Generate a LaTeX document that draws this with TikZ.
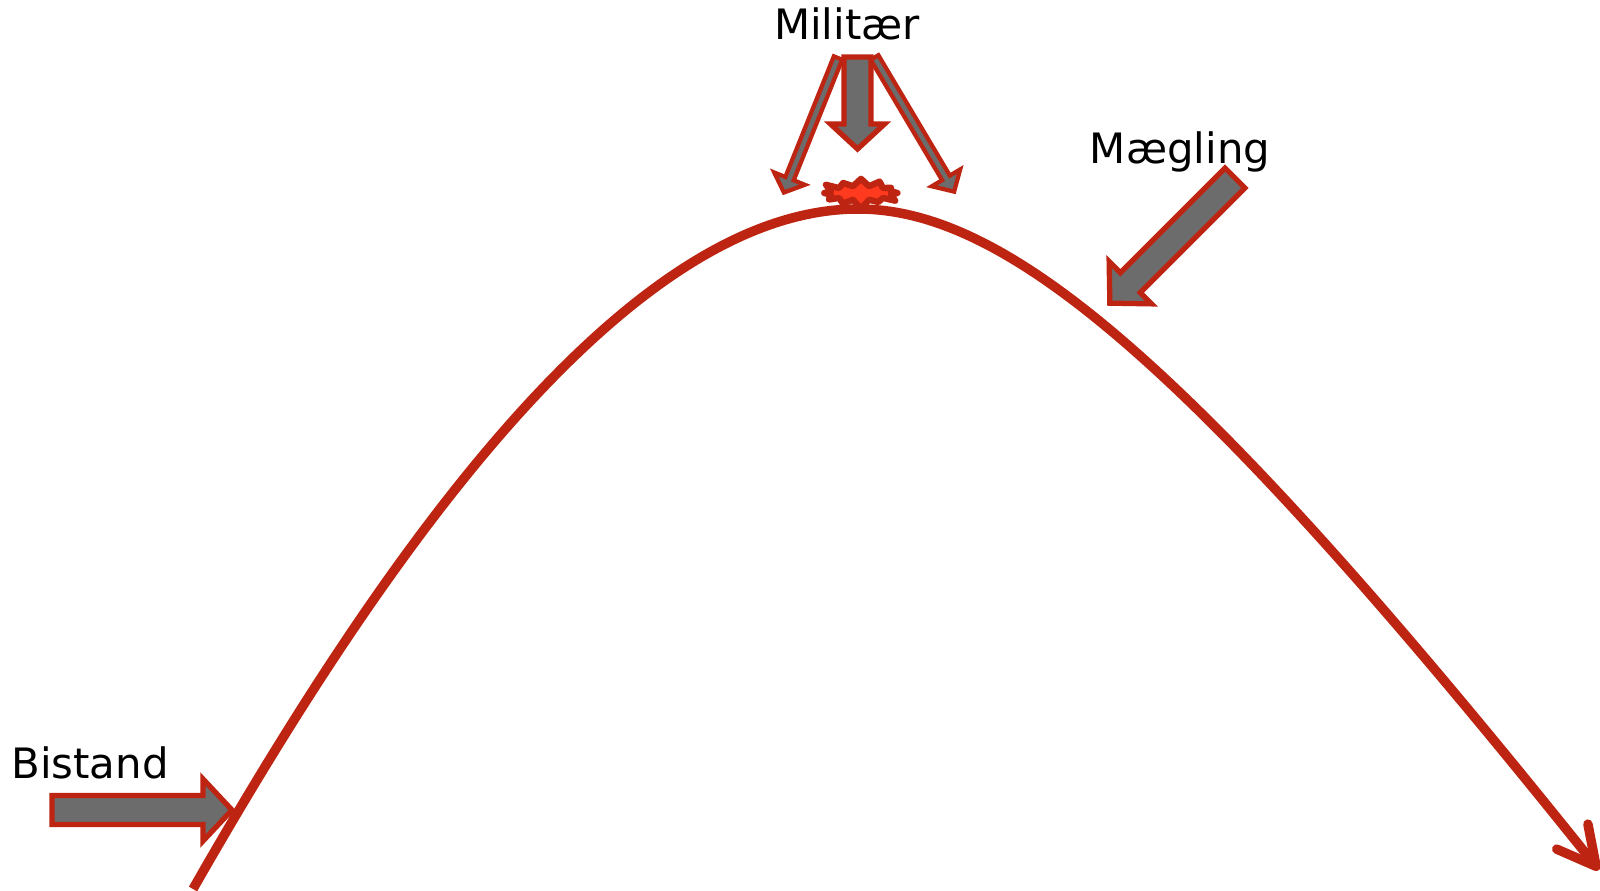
\documentclass[tikz,border=0pt]{standalone}
\usepackage{fontspec}
\setmainfont{DejaVu Sans}
\usetikzlibrary{arrows.meta,shapes.symbols}

\definecolor{crisisred}{RGB}{190,36,18}
\definecolor{blockgray}{RGB}{108,108,108}
\definecolor{flashred}{RGB}{255,58,30}

\tikzset{
  hump/.style={crisisred, line width=2.7pt},
  blockarrow/.style={draw=crisisred, fill=blockgray, line width=1.5pt},
  thinarrow/.style={blockarrow, line width=1.2pt},
  labeltext/.style={font=\fontsize{11.9}{14}\selectfont, anchor=base, inner sep=0pt},
}

% fat arrow: [style]{tail}{angle}{length}{shaft half}{head half}{head length}
\newcommand{\fatarrow}[7][blockarrow]{%
  \begin{scope}[shift={#2}, rotate=#3]
    \draw[#1] (0,-#5) -- ({#4-#7},-#5) -- ({#4-#7},-#6) -- (#4,0)
      -- ({#4-#7},#6) -- ({#4-#7},#5) -- (0,#5) -- cycle;
  \end{scope}}

\begin{document}
\begin{tikzpicture}[x=0.01cm, y=-0.01cm]
\useasboundingbox (0,0) rectangle (1600,891);

% ---- the curve ----
\coordinate (rise) at (193,889);
\coordinate (peak) at (858,209);
\coordinate (fall) at (1599,870);
\draw[hump, -{Straight Barb[length=3.8mm,width=4mm,round]}]
  (rise) .. controls (378,565) and (623,209) .. (peak)
         .. controls (1010,209) and (1199,370) .. (fall);

% ---- clash at the top ----
\node[starburst, draw=crisisred, fill=flashred, line width=1.8pt,
      line join=round, minimum width=0.82cm, minimum height=0.34cm,
      inner sep=0pt, starburst points=12,
      starburst point height=0.1cm] (clash) at (861,193) {};

% ---- block arrows ----
\fatarrow{(52,810)}{0}{180}{14.5}{31}{29}              % Bistand
\fatarrow{(1235,178)}{225}{177}{14}{30}{29}            % Maegling
\fatarrow{(857.5,57)}{270}{92}{13.5}{27}{25}           % Militaer, middle
\fatarrow[thinarrow]{(838,58)}{248.1}{145}{4.5}{16.5}{15}   % Militaer, left
\fatarrow[thinarrow]{(874.5,57.5)}{-59.3}{156}{4.5}{16.5}{16} % Militaer, right

% ---- labels ----
\node[labeltext] (bistand) at (90,778) {Bistand};
\node[labeltext] (militaer) at (847,40) {Militær};
\node[labeltext] (maegling) at (1180,163) {Mægling};

\end{tikzpicture}
\end{document}
